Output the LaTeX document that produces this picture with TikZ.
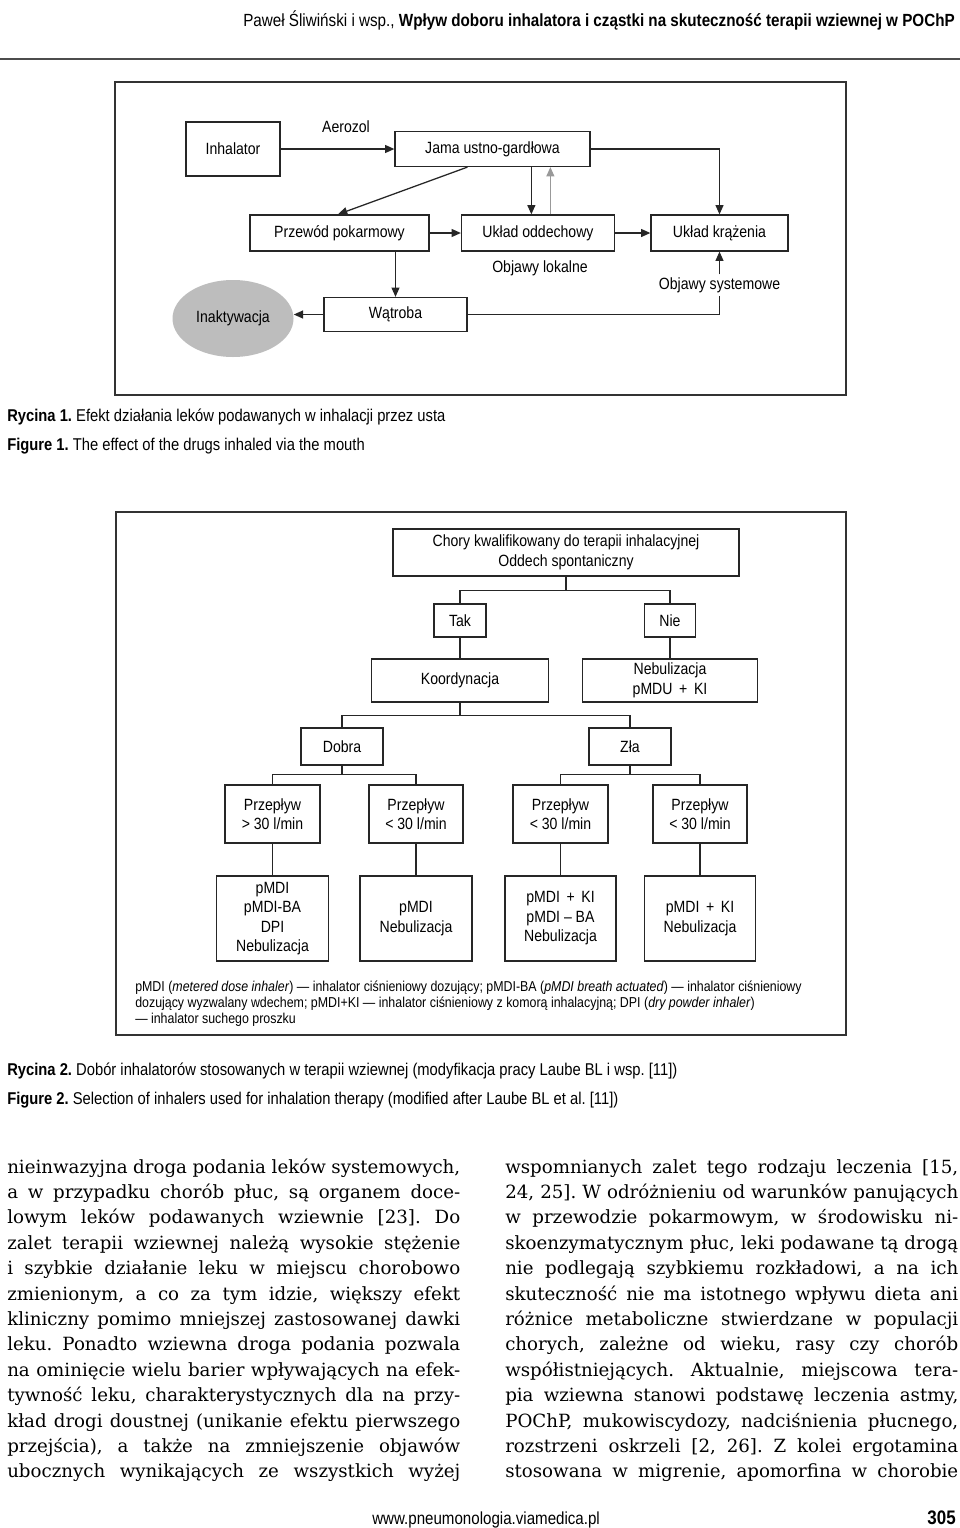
\documentclass[tikz,border=0pt]{standalone}
\usepackage{fontspec}
\setmainfont{DejaVu Serif}
\newfontfamily\cond[FakeStretch=0.865]{Liberation Sans}
\usetikzlibrary{arrows.meta,calc,shapes.geometric}
\newlength\pxu
\setlength\pxu{0.75pt}
\frenchspacing
\begin{document}
\begin{tikzpicture}[x=0.75pt,y=-0.75pt,
  fr/.style={draw=black!80,line width=1.1pt},
  sz/.style 2 args={minimum width=#1*0.75pt,minimum height=#2*0.75pt},
  bx/.style={draw=black!85,line width=0.95pt,font=\cond\fontsize{12.2}{14.6}\selectfont,align=center,inner sep=0pt},
  lbl/.style={font=\cond\fontsize{12.2}{14.6}\selectfont,inner sep=2pt},
  arr/.style={draw=black!85,line width=0.95pt,-{Triangle[length=7pt,width=6pt]}},
  ln/.style={draw=black!85,line width=0.95pt},
  capt/.style={anchor=base west,inner sep=0pt,font=\cond\fontsize{12.8}{14}\selectfont},
  fnote/.style={anchor=base west,inner sep=0pt,font=\cond\fontsize{10.75}{12}\selectfont},
  bodyl/.style={anchor=base west,inner sep=0pt,font=\fontsize{13.65}{16}\selectfont}
]
\fill[white] (0,0) rectangle (960,1528);
\useasboundingbox (0,0) rectangle (960,1528);

% header
\node[anchor=base east,inner sep=0pt,font=\cond\fontsize{13.2}{15}\selectfont] (hdr) at (955,26)
  {Paweł Śliwiński i wsp., \textbf{Wpływ doboru inhalatora i cząstki na skuteczność terapii wziewnej w POChP}};
\draw[black!70,line width=1.2pt] (0,59) -- (960,59);

% ---------- Figure 1 ----------
\draw[fr] (115,82) rectangle (846,395);
\node[bx,sz={94}{54}] (inh) at (233,149) {Inhalator};
\node[lbl] (aer) at (346,127) {Aerozol};
\node[bx,sz={195}{35}] (jama) at (492.5,149) {Jama ustno-gardłowa};
\node[bx,sz={179}{36}] (prz) at (339.5,233) {Przewód pokarmowy};
\node[bx,sz={153}{36}] (ukl) at (538,233) {Układ oddechowy};
\node[bx,sz={137}{36}] (kr) at (719.5,233) {Układ krążenia};
\node[lbl] (lok) at (540,268) {Objawy lokalne};
\node[lbl] (sys) at (719.5,285) {Objawy systemowe};
\node[bx,sz={143}{34}] (wat) at (395.5,314.5) {Wątroba};
\node[ellipse,fill=black!26,sz={121}{77},inner sep=0pt,font=\cond\fontsize{12.2}{14.6}\selectfont] (ina) at (233,318.5) {Inaktywacja};

\coordinate (d0) at ($(jama.south west)+(73,0)$);
\coordinate (d1) at ($(jama.south west)+(137,0)$);
\coordinate (g1) at ($(jama.south west)+(156,0)$);
\draw[arr] (inh.east) -- (inh.east -| jama.west);
\draw[arr] (d0) -- ($(prz.north)+(-1.5,0)$);
\draw[arr] (d1) -- (d1 |- ukl.north);
\draw[arr,draw=black!40] (g1 |- ukl.north) -- (g1);
\draw[arr] (jama.east) -| (kr.north);
\draw[arr] (prz.east) -- (ukl.west);
\draw[arr] (ukl.east) -- (kr.west);
\draw[arr] (wat.north |- prz.south) -- (wat.north);
\draw[arr] (wat.west) -- (wat.west -| ina.east);
\draw[ln] (wat.east) -| (sys.south);
\draw[arr] (sys.north) -- (kr.south);

\node[capt] (r1) at (7,421) {\textbf{Rycina 1.} Efekt działania leków podawanych w inhalacji przez usta};
\node[capt] (f1) at (7,450) {\textbf{Figure 1.} The effect of the drugs inhaled via the mouth};

% ---------- Figure 2 ----------
\draw[fr] (116,512) rectangle (846,1035);
\node[bx,sz={346}{47}] (chory) at (566,552.5) {Chory kwalifikowany do terapii inhalacyjnej\\Oddech spontaniczny};
\node[bx,sz={52}{33}] (tak) at (460,620.5) {Tak};
\node[bx,sz={51}{33}] (nie) at (670,620.5) {Nie};
\node[bx,sz={177}{43}] (koord) at (460,680.5) {Koordynacja};
\node[bx,sz={175}{43}] (neb) at (670,680.5) {Nebulizacja\\pMDU \,+\, KI};
\node[bx,sz={82}{37}] (dobra) at (342,746.5) {Dobra};
\node[bx,sz={82}{37}] (zla) at (630,746.5) {Zła};
\node[bx,sz={95}{58}] (p1) at (272.5,814) {Przepływ\\> 30 l/min};
\node[bx,sz={94}{58}] (p2) at (416,814) {Przepływ\\< 30 l/min};
\node[bx,sz={95}{58}] (p3) at (560.5,814) {Przepływ\\< 30 l/min};
\node[bx,sz={94}{58}] (p4) at (700,814) {Przepływ\\< 30 l/min};
\node[bx,sz={112}{85}] (b1) at (272.5,918.5) {pMDI\\pMDI-BA\\DPI\\Nebulizacja};
\node[bx,sz={112}{85}] (b2) at (416,918.5) {pMDI\\Nebulizacja};
\node[bx,sz={111}{85}] (b3) at (560.5,918.5) {pMDI \,+\, KI\\pMDI – BA\\Nebulizacja};
\node[bx,sz={111}{85}] (b4) at (700,918.5) {pMDI \,+\, KI\\Nebulizacja};

\draw[ln] (chory.south) -- ++(0,14) -| (tak.north);
\draw[ln] (chory.south) -- ++(0,14) -| (nie.north);
\draw[ln] (tak.south) -- (tak.south |- koord.north);
\draw[ln] (nie.south) -- (nie.south |- neb.north);
\draw[ln] (koord.south) -- ++(0,13) -| (dobra.north);
\draw[ln] (koord.south) -- ++(0,13) -| (zla.north);
\draw[ln] (dobra.south) -- ++(0,9) -| (p1.north);
\draw[ln] (dobra.south) -- ++(0,9) -| (p2.north);
\draw[ln] (zla.south) -- ++(0,9) -| (p3.north);
\draw[ln] (zla.south) -- ++(0,9) -| (p4.north);
\draw[ln] (p1.south) -- (b1.north);
\draw[ln] (p2.south) -- (b2.north);
\draw[ln] (p3.south) -- (b3.north);
\draw[ln] (p4.south) -- (b4.north);

\node[fnote] (fn1) at (135,991) {pMDI (\textit{metered dose inhaler}) — inhalator ciśnieniowy dozujący; pMDI-BA (\textit{pMDI breath actuated}) — inhalator ciśnieniowy};
\node[fnote] (fn2) at (135,1007) {dozujący wyzwalany wdechem; pMDI+KI — inhalator ciśnieniowy z komorą inhalacyjną; DPI (\textit{dry powder inhaler})};
\node[fnote] (fn3) at (135,1023) {— inhalator suchego proszku};

\node[capt] (r2) at (7,1075) {\textbf{Rycina 2.} Dobór inhalatorów stosowanych w terapii wziewnej (modyfikacja pracy Laube BL i wsp. [11])};
\node[capt] (f2) at (7,1104) {\textbf{Figure 2.} Selection of inhalers used for inhalation therapy (modified after Laube BL et al. [11])};

% ---------- body text ----------
\node[bodyl] (l1) at (7,1173.0) {\makebox[453\pxu][s]{nieinwazyjna droga podania leków systemowych,}};
\node[bodyl] (l2) at (7,1198.4) {\makebox[453\pxu][s]{a w przypadku chorób płuc, są organem doce-}};
\node[bodyl] (l3) at (7,1223.8) {\makebox[453\pxu][s]{lowym leków podawanych wziewnie [23]. Do}};
\node[bodyl] (l4) at (7,1249.2) {\makebox[453\pxu][s]{zalet terapii wziewnej należą wysokie stężenie}};
\node[bodyl] (l5) at (7,1274.6) {\makebox[453\pxu][s]{i szybkie działanie leku w miejscu chorobowo}};
\node[bodyl] (l6) at (7,1300.0) {\makebox[453\pxu][s]{zmienionym, a co za tym idzie, większy efekt}};
\node[bodyl] (l7) at (7,1325.4) {\makebox[453\pxu][s]{kliniczny pomimo mniejszej zastosowanej dawki}};
\node[bodyl] (l8) at (7,1350.8) {\makebox[453\pxu][s]{leku. Ponadto wziewna droga podania pozwala}};
\node[bodyl] (l9) at (7,1376.2) {\makebox[453\pxu][s]{na ominięcie wielu barier wpływających na efek-}};
\node[bodyl] (l10) at (7,1401.6) {\makebox[453\pxu][s]{tywność leku, charakterystycznych dla na przy-}};
\node[bodyl] (l11) at (7,1427.0) {\makebox[453\pxu][s]{kład drogi doustnej (unikanie efektu pierwszego}};
\node[bodyl] (l12) at (7,1452.4) {\makebox[453\pxu][s]{przejścia), a także na zmniejszenie objawów}};
\node[bodyl] (l13) at (7,1477.8) {\makebox[453\pxu][s]{ubocznych wynikających ze wszystkich wyżej}};

\node[bodyl] (r1l) at (505,1173.0) {\makebox[453\pxu][s]{wspomnianych zalet tego rodzaju leczenia [15,}};
\node[bodyl] (r2l) at (505,1198.4) {\makebox[453\pxu][s]{24, 25]. W odróżnieniu od warunków panujących}};
\node[bodyl] (r3l) at (505,1223.8) {\makebox[453\pxu][s]{w przewodzie pokarmowym, w środowisku ni-}};
\node[bodyl] (r4l) at (505,1249.2) {\makebox[453\pxu][s]{skoenzymatycznym płuc, leki podawane tą drogą}};
\node[bodyl] (r5l) at (505,1274.6) {\makebox[453\pxu][s]{nie podlegają szybkiemu rozkładowi, a na ich}};
\node[bodyl] (r6l) at (505,1300.0) {\makebox[453\pxu][s]{skuteczność nie ma istotnego wpływu dieta ani}};
\node[bodyl] (r7l) at (505,1325.4) {\makebox[453\pxu][s]{różnice metaboliczne stwierdzane w populacji}};
\node[bodyl] (r8l) at (505,1350.8) {\makebox[453\pxu][s]{chorych, zależne od wieku, rasy czy chorób}};
\node[bodyl] (r9l) at (505,1376.2) {\makebox[453\pxu][s]{współistniejących. Aktualnie, miejscowa tera-}};
\node[bodyl] (r10l) at (505,1401.6) {\makebox[453\pxu][s]{pia wziewna stanowi podstawę leczenia astmy,}};
\node[bodyl] (r11l) at (505,1427.0) {\makebox[453\pxu][s]{POChP, mukowiscydozy, nadciśnienia płucnego,}};
\node[bodyl] (r12l) at (505,1452.4) {\makebox[453\pxu][s]{rozstrzeni oskrzeli [2, 26]. Z kolei ergotamina}};
\node[bodyl] (r13l) at (505,1477.8) {\makebox[453\pxu][s]{stosowana w migrenie, apomorfina w chorobie}};

% footer
\node[anchor=base west,inner sep=0pt,font=\cond\fontsize{13.1}{15}\selectfont] (www) at (372,1524) {www.pneumonologia.viamedica.pl};
\node[anchor=base east,inner sep=0pt,font=\cond\bfseries\fontsize{14.7}{16}\selectfont] (pg) at (956,1524) {305};
\end{tikzpicture}
\end{document}
